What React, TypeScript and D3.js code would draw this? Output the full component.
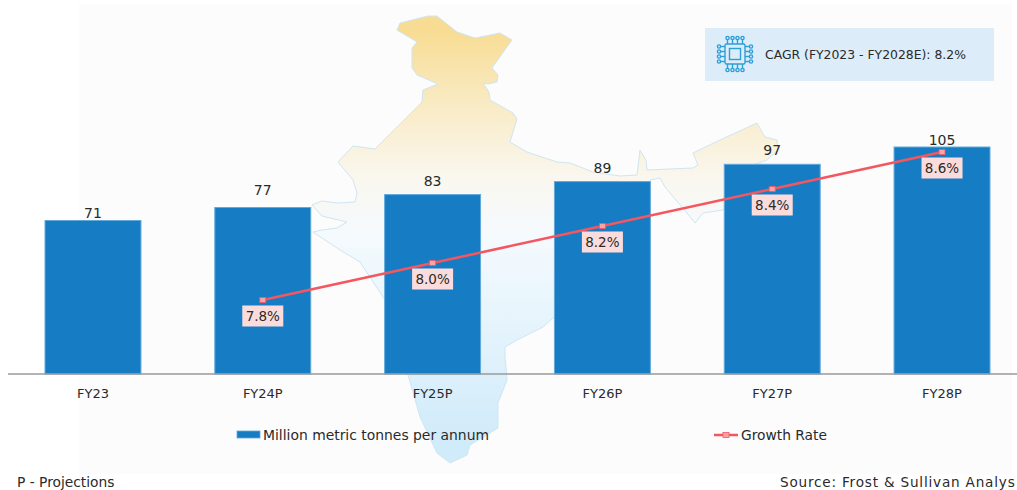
import React from "react";
import * as d3 from "d3";

const categories = ["FY23", "FY24P", "FY25P", "FY26P", "FY27P", "FY28P"];
const volumes = [71, 77, 83, 89, 97, 105];
const growthCategories = ["FY24P", "FY25P", "FY26P", "FY27P", "FY28P"];
const growthRates = [7.8, 8.0, 8.2, 8.4, 8.6];
const volumeLabelLift = [3, 13, 9, 9, 9, 2];

// decorative backdrop outline, traced in page pixels
const mapOutline: [number, number][] = [
  [397, 30], [400, 23], [428, 16], [437, 16], [457, 32], [475, 38], [500, 33], [512, 40],
  [492, 68], [498, 75], [497, 82], [488, 84], [483, 83], [489, 92], [490, 100], [513, 113],
  [517, 119], [510, 142], [527, 152], [557, 162], [570, 163], [593, 172], [620, 176], [637, 175],
  [640, 150], [646, 160], [647, 170], [693, 168], [698, 165], [693, 153], [720, 140], [757, 123],
  [765, 137], [777, 140], [778, 150], [767, 160], [750, 166], [740, 190], [723, 210], [703, 213],
  [695, 223], [687, 213], [665, 187], [660, 178], [650, 180], [650, 230], [650, 250], [600, 300], [553, 318],
  [543, 327], [517, 340], [505, 347], [505, 357], [507, 380], [498, 403], [498, 428], [470, 445],
  [467, 455], [450, 463], [437, 453], [420, 417], [408, 375], [385, 300], [360, 262], [340, 250],
  [313, 232], [322, 230], [337, 228], [347, 222], [322, 216], [312, 205], [322, 201], [337, 203],
  [355, 202], [357, 193], [353, 180], [338, 162], [353, 146], [375, 149], [422, 102], [423, 90],
  [438, 84], [417, 75], [412, 68], [412, 48], [417, 42],
];

const FONT = "'DejaVu Sans', sans-serif";
const INK = "#2a2a2a";
const BAR = "#167dc4";
const RED = "#f4575f";

export default function App() {
  const x = d3.scaleBand<string>().domain(categories).range([45, 990]).paddingInner(0.435).paddingOuter(0);
  const y = d3.scaleLinear().domain([0, 105]).range([374, 147]);
  const yGrowth = d3.scaleLinear().domain([7.8, 8.6]).range([300, 152]);
  const cx = (c: string) => (x(c) as number) + x.bandwidth() / 2;
  const growthLine = d3
    .line<number>()
    .x((_, i) => cx(growthCategories[i]))
    .y((d) => yGrowth(d));
  const mapPath = d3.line()(mapOutline) + "Z";

  const chipPins = d3.range(4).map((i) => -7.5 + i * 5);

  return (
    <svg
      width={1017}
      height={490}
      style={{ position: "absolute", left: 0, top: 0, display: "block", background: "#fff" }}
      fontFamily={FONT}
    >
      <defs>
        <linearGradient id="mapFill" gradientUnits="userSpaceOnUse" x1="0" y1="30" x2="0" y2="440">
          <stop offset="0" stopColor="#f8dc93" />
          <stop offset="0.2" stopColor="#f9ecc9" />
          <stop offset="0.36" stopColor="#faf7ef" />
          <stop offset="0.5" stopColor="#f5fafe" />
          <stop offset="0.75" stopColor="#e3f3fc" />
          <stop offset="1" stopColor="#d0ebfa" />
        </linearGradient>
      </defs>
      <rect x={79} y={4} width={933} height={470} fill="#fcfcfc" />
      <path d={mapPath} fill="url(#mapFill)" stroke="#cfe6f2" strokeWidth={1} strokeLinejoin="round" />

      <rect x={705} y={28} width={289} height={53} fill="#dcedf9" />
      <g transform="translate(735,54)" stroke="#2c9fd8" fill="none" strokeWidth={1.4}>
        <rect x={-10} y={-10} width={20} height={20} rx={1.5} />
        <rect x={-5.5} y={-5.5} width={11} height={11} />
        {chipPins.map((p) => (
          <g key={p}>
            <line x1={p} x2={p} y1={-10} y2={-15} />
            <line x1={p} x2={p} y1={10} y2={15} />
            <line y1={p} y2={p} x1={-10} x2={-15} />
            <line y1={p} y2={p} x1={10} x2={15} />
            <circle cx={p} cy={-16} r={1.6} />
            <circle cx={p} cy={16} r={1.6} />
            <circle cx={-16} cy={p} r={1.6} />
            <circle cx={16} cy={p} r={1.6} />
          </g>
        ))}
      </g>
      <text x={765} y={54} dominantBaseline="central" fontSize={12.4} fill={INK}>
        CAGR (FY2023 - FY2028E): 8.2%
      </text>

      {categories.map((c, i) => (
        <g key={c}>
          <rect
            x={x(c)}
            y={y(volumes[i])}
            width={x.bandwidth()}
            height={y(0) - y(volumes[i])}
            fill={BAR}
            stroke="#62a9da"
            strokeWidth={1}
          />
          <text
            x={cx(c)}
            y={y(volumes[i]) - volumeLabelLift[i]}
            textAnchor="middle"
            fontSize={14}
            fill={INK}
          >
            {volumes[i]}
          </text>
          <text x={cx(c)} y={393} textAnchor="middle" dominantBaseline="central" fontSize={13} fill={INK}>
            {c}
          </text>
        </g>
      ))}
      <line x1={8} x2={1017} y1={374} y2={374} stroke="#9a9a9a" strokeWidth={1.3} />

      <path d={growthLine(growthRates) as string} fill="none" stroke={RED} strokeWidth={2.5} />
      {growthCategories.map((c, i) => {
        const px = cx(c);
        const py = yGrowth(growthRates[i]);
        return (
          <g key={c}>
            <rect x={px - 3} y={py - 2.5} width={6} height={5} fill="#f9a3a6" stroke={RED} strokeWidth={0.8} />
            <rect x={px - 20.5} y={py + 5.5} width={41} height={21} fill="#fbdcdc" />
            <text
              x={px}
              y={py + 16}
              textAnchor="middle"
              dominantBaseline="central"
              fontSize={13.5}
              fill={INK}
            >
              {growthRates[i].toFixed(1)}%
            </text>
          </g>
        );
      })}

      <rect x={237} y={431} width={23} height={7} fill={BAR} stroke="#62a9da" strokeWidth={0.8} />
      <text x={263} y={435} dominantBaseline="central" fontSize={13.9} fill={INK}>
        Million metric tonnes per annum
      </text>
      <line x1={714} x2={738} y1={435} y2={435} stroke={RED} strokeWidth={2.5} />
      <rect x={723} y={432.5} width={6} height={5} fill="#f9a3a6" stroke={RED} strokeWidth={0.8} />
      <text x={741} y={435} dominantBaseline="central" fontSize={13.8} fill={INK}>
        Growth Rate
      </text>

      <text x={17} y={482} dominantBaseline="central" fontSize={13.8} fill={INK}>
        P - Projections
      </text>
      <text x={780} y={482} dominantBaseline="central" fontSize={13.6} letterSpacing={0.8} fill={INK}>
        Source: Frost &amp; Sullivan Analys
      </text>
    </svg>
  );
}
